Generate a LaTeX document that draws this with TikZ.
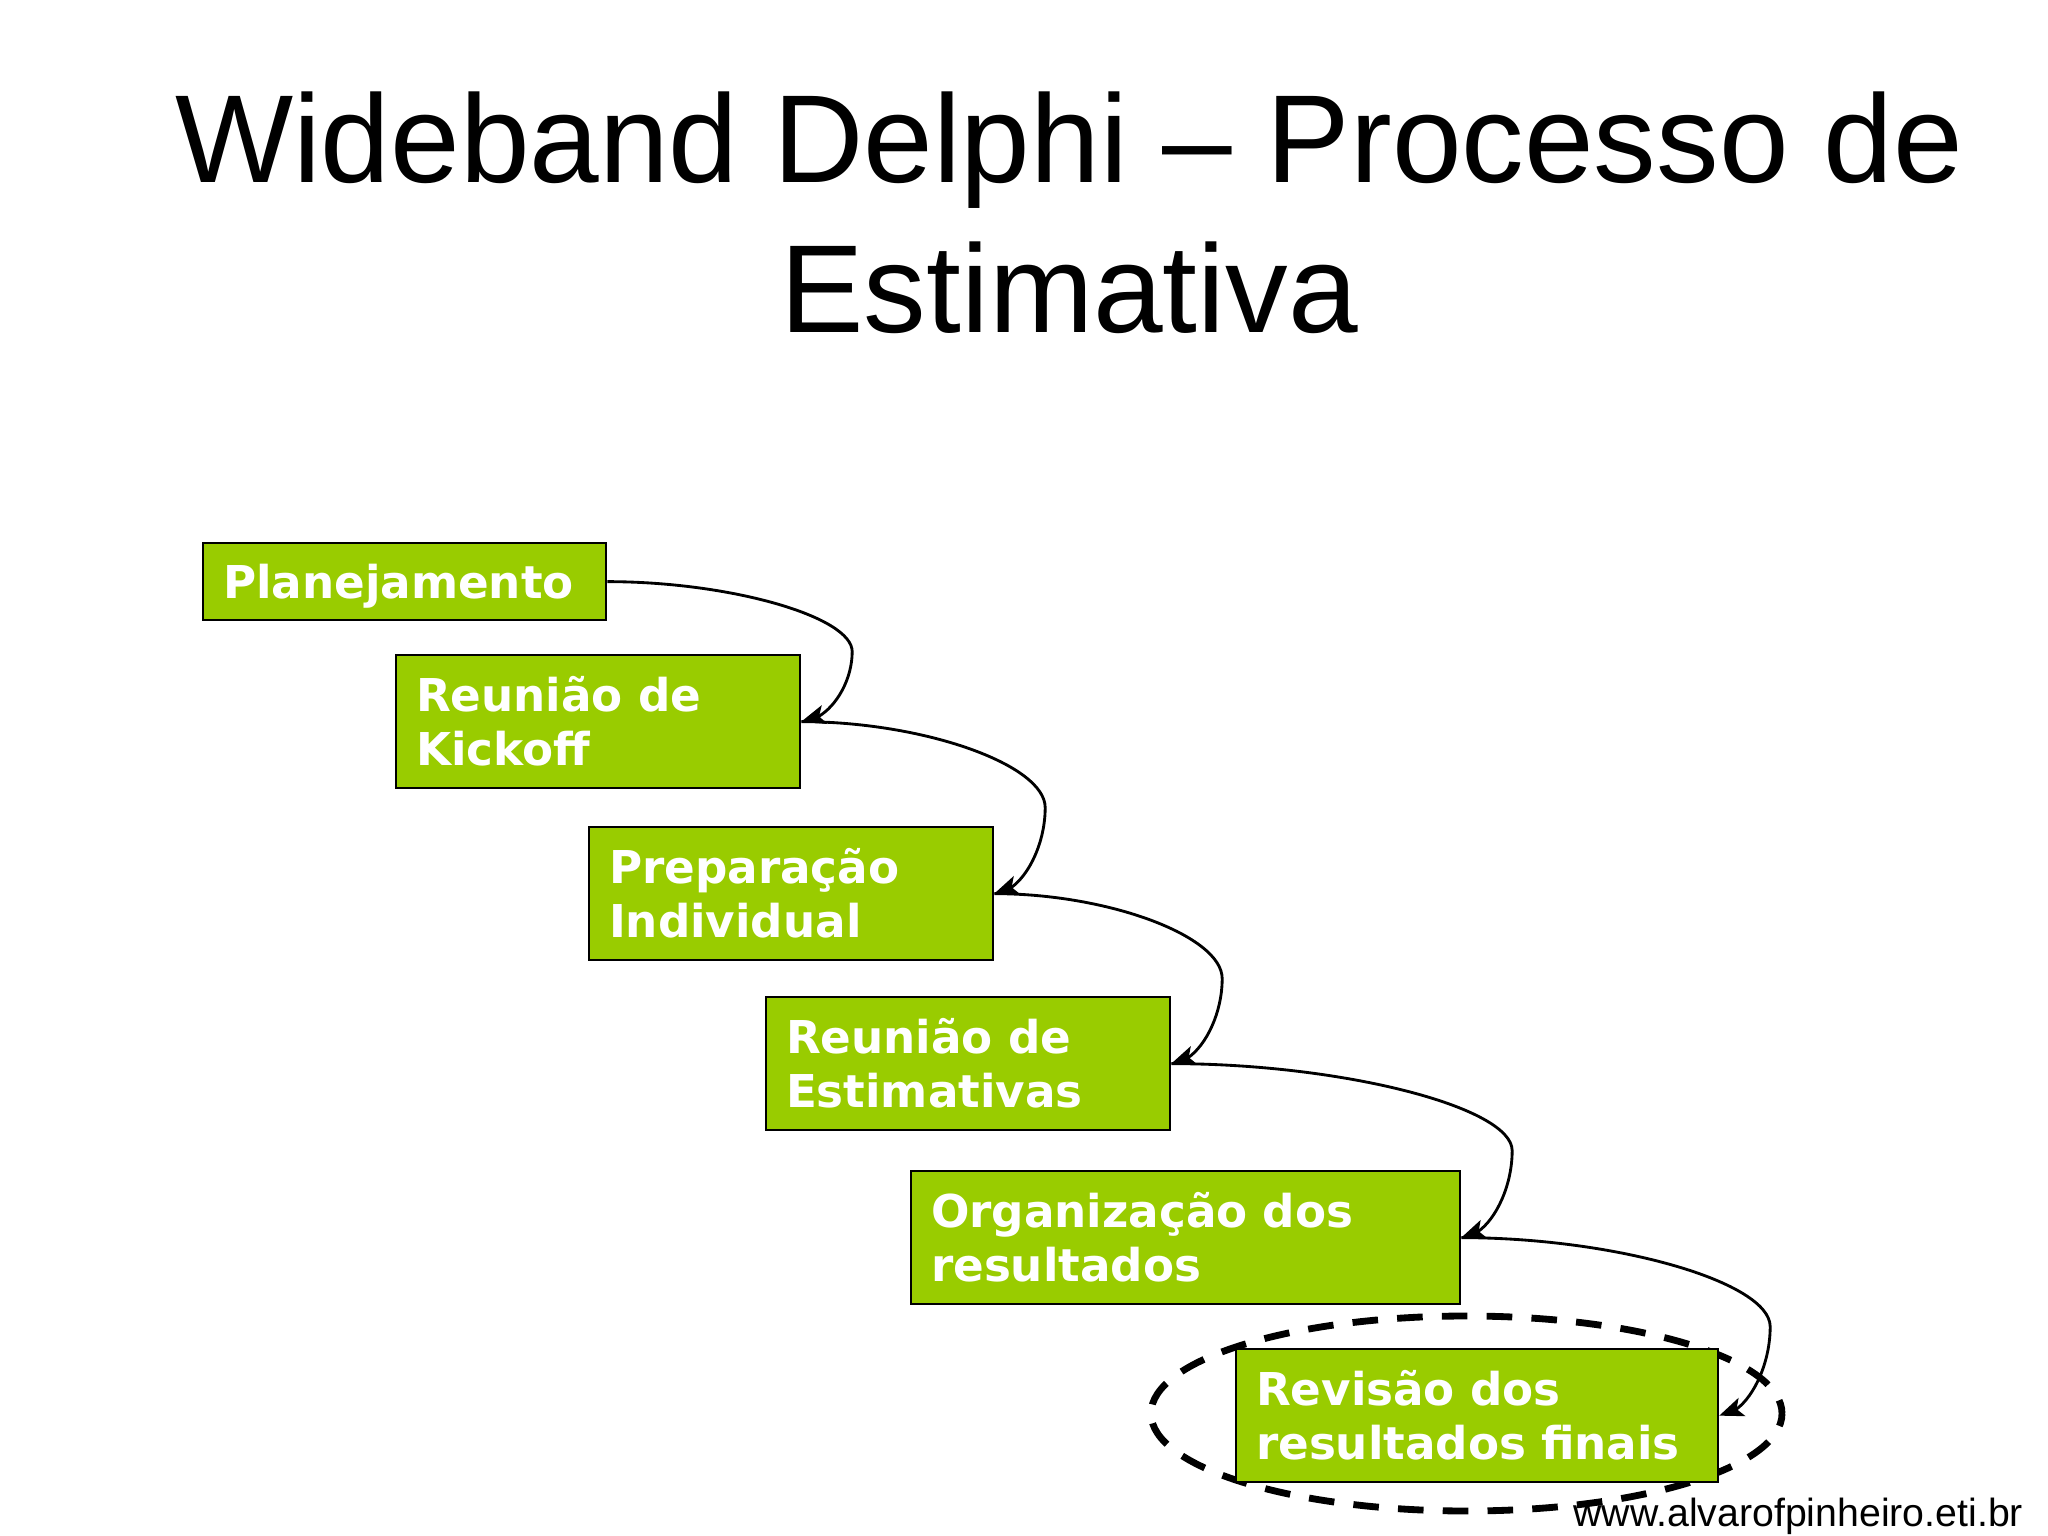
\documentclass[tikz,border=0pt]{standalone}
\usepackage{fontspec}
\setmainfont{Liberation Sans}
\newfontfamily\boxfont{DejaVu Sans}
\usetikzlibrary{arrows.meta,bending,calc}
\definecolor{boxgreen}{HTML}{99CC00}
\newcommand\curvconn[2]{%
  \draw[conn] let \p1=(#1.east), \p2=(#2.east), \n1={\x2+17.9pt}, \n2={(\y1+\y2)/2}, \n3={\y2-\y1} in
  (\p1) .. controls ({(\x1+\n1)/2},\y1) and (\n1,{\y1+\n3/4}) .. (\n1,\n2)
        .. controls (\n1,{\y1+3*\n3/4}) and ({(\n1+\x2)/2},\y2) .. (\p2);}
\newcommand\bxtop{\rule{0pt}{15.8pt}}
\newcommand\bxbot{\rule[-4pt]{0pt}{4pt}}
\begin{document}
\begin{tikzpicture}[x=0.3515625pt,y=-0.3515625pt,
  stepbox/.style={draw=black, line width=0.8pt, fill=boxgreen, text=white,
    anchor=north west, inner xsep=7pt, inner ysep=0pt, align=left,
    font=\boxfont\bfseries\fontsize{15.9pt}{19.2pt}\selectfont},
  conn/.style={line width=1pt, draw=black,
    -{Stealth[length=8.5pt,width=6.8pt,inset=2pt,flex]}},
  titletext/.style={anchor=base, inner sep=0pt, font=\fontsize{44pt}{52.8pt}\selectfont},
  urltext/.style={anchor=base west, inner sep=0pt, font=\fontsize{13.8pt}{16pt}\selectfont},
  dashring/.style={draw=black, line width=2.4pt, dash pattern=on 9pt off 6.75pt, dash phase=4.5pt}
]
\useasboundingbox (0,0) rectangle (2048,1536);
\fill[white] (0,0) rectangle (2048,1536);

\node[titletext] (title1) at (1069,183) {Wideband Delphi – Processo de};
\node[titletext] (title2) at (1069,333) {Estimativa};

\draw[dashring] (1466.5,1413.5) ellipse [x radius=315.5, y radius=97.5];

\node[stepbox, text width=127.68pt, minimum height=27.07pt] (b1) at (202,542)
  {\bxtop Planejamento\bxbot};
\node[stepbox, text width=128.03pt, minimum height=46.76pt] (b2) at (395,654)
  {\bxtop Reunião de\\Kickoff\bxbot};
\node[stepbox, text width=128.03pt, minimum height=46.76pt] (b3) at (588,826)
  {\bxtop Preparação\\Individual\bxbot};
\node[stepbox, text width=128.03pt, minimum height=46.76pt] (b4) at (765,996)
  {\bxtop Reunião de\\Estimativas\bxbot};
\node[stepbox, text width=179.0pt, minimum height=46.76pt] (b5) at (910,1170)
  {\bxtop Organização dos\\resultados\bxbot};
\node[stepbox, text width=155.45pt, minimum height=46.76pt] (b6) at (1235,1348)
  {\bxtop Revisão dos\\resultados finais\bxbot};

\curvconn{b1}{b2}
\curvconn{b2}{b3}
\curvconn{b3}{b4}
\curvconn{b4}{b5}
\curvconn{b5}{b6}

\node[urltext] (url) at (1573,1526) {www.alvarofpinheiro.eti.br};
\end{tikzpicture}
\end{document}
